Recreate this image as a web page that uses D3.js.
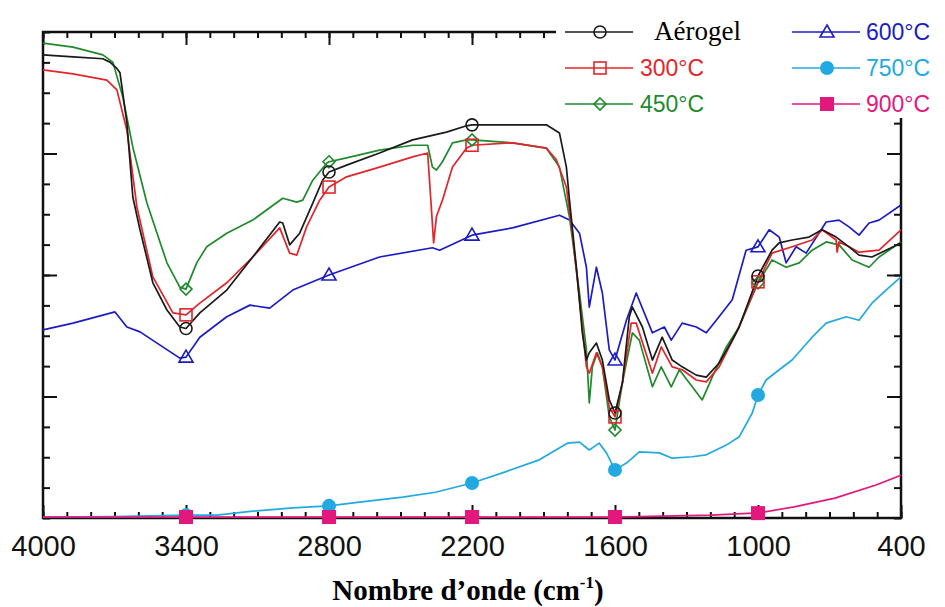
<!DOCTYPE html>
<html>
<head>
<meta charset="utf-8">
<script src="https://cdn.jsdelivr.net/npm/d3@7"></script>
<style>
  body { margin: 0; background: #fff; }
  svg { display: block; }
  .tick-label { font-family: "Liberation Sans", Arial, sans-serif; }
</style>
</head>
<body>
<svg id="chart" width="945" height="607"></svg>
<script>
// wavenumber (cm-1) / transmittance (arb. %)
const aerogel = [
  [4000, 95.3], [3874, 94.9], [3749, 94.5], [3719, 93.8], [3690, 92.5], [3677, 91.6],
  [3648, 81.3], [3623, 66.0], [3593, 59.3], [3539, 48.4], [3480, 42.8], [3426, 39.3],
  [3400, 39.0], [3342, 42.2], [3229, 46.9], [3120, 53.7], [3007, 60.9], [2994, 60.7],
  [2965, 56.2], [2923, 58.6], [2868, 64.8], [2827, 69.5], [2800, 71.2], [2726, 72.6],
  [2588, 75.1], [2449, 77.8], [2307, 79.4], [2223, 80.7], [2200, 80.9], [2030, 80.9],
  [1888, 80.9], [1833, 79.2], [1804, 72.2], [1791, 65.4], [1762, 51.6], [1737, 38.1],
  [1720, 32.5], [1708, 34.0], [1678, 36.0], [1653, 32.5], [1624, 24.3], [1600, 21.6],
  [1569, 27.8], [1540, 41.4], [1527, 43.4], [1485, 39.3], [1443, 32.5], [1402, 37.2],
  [1360, 32.5], [1318, 31.1], [1259, 29.4], [1217, 29.0], [1163, 31.9], [1108, 36.6],
  [1079, 39.3], [1000, 49.8], [941, 55.1], [911, 56.6], [857, 57.2], [786, 57.8],
  [731, 59.3], [672, 57.8], [618, 55.8], [576, 54.1], [522, 53.7], [463, 55.1], [400, 56.6]
];
const t300 = [
  [4000, 92.2], [3874, 91.4], [3732, 90.1], [3690, 88.1], [3648, 79.8], [3606, 64.0],
  [3539, 49.6], [3455, 42.2], [3400, 41.8], [3342, 44.2], [3229, 48.4], [3120, 53.7],
  [3007, 59.7], [2965, 54.5], [2935, 54.1], [2894, 59.9], [2839, 65.4], [2800, 68.1],
  [2726, 70.2], [2588, 72.2], [2449, 74.3], [2386, 75.1], [2370, 63.4], [2361, 56.6],
  [2349, 62.1], [2324, 65.4], [2282, 72.2], [2223, 76.1], [2200, 76.7], [2030, 77.2],
  [1888, 76.1], [1846, 73.7], [1804, 68.1], [1779, 58.6], [1749, 44.9], [1720, 31.1],
  [1708, 29.8], [1678, 34.0], [1653, 31.1], [1624, 22.8], [1600, 20.8], [1569, 27.8],
  [1532, 40.1], [1511, 40.1], [1443, 29.8], [1406, 35.2], [1360, 31.1], [1318, 30.5],
  [1259, 28.4], [1217, 28.0], [1163, 31.1], [1091, 38.1], [1000, 48.6], [941, 54.5],
  [857, 55.8], [773, 57.2], [731, 59.3], [672, 57.2], [668, 54.7], [660, 56.8],
  [618, 55.8], [576, 54.7], [492, 55.1], [400, 59.3]
];
const t450 = [
  [4000, 97.7], [3874, 96.9], [3749, 95.3], [3707, 93.8], [3665, 86.6], [3623, 76.3],
  [3564, 64.8], [3480, 52.5], [3426, 47.5], [3400, 47.1], [3355, 52.5], [3313, 55.8],
  [3229, 58.6], [3120, 61.3], [2994, 65.8], [2935, 65.0], [2910, 65.4], [2868, 69.5],
  [2810, 73.0], [2800, 73.3], [2726, 74.1], [2588, 75.7], [2449, 76.7], [2386, 76.7],
  [2366, 72.2], [2349, 71.6], [2324, 73.3], [2282, 77.2], [2223, 77.8], [2200, 77.8],
  [2030, 77.2], [1888, 76.1], [1833, 72.2], [1791, 61.9], [1749, 46.3], [1720, 34.6],
  [1708, 23.7], [1695, 31.1], [1674, 34.0], [1653, 31.1], [1624, 20.8], [1600, 18.1],
  [1569, 27.8], [1527, 38.1], [1498, 36.6], [1443, 27.0], [1406, 31.1], [1364, 27.0],
  [1330, 30.5], [1276, 27.0], [1234, 24.3], [1192, 29.0], [1133, 35.2], [1079, 39.3],
  [1000, 48.4], [941, 53.1], [882, 51.6], [827, 52.5], [773, 55.1], [714, 56.8],
  [660, 56.2], [605, 53.1], [534, 51.6], [492, 53.7], [400, 56.8]
];
const t600 = [
  [4000, 38.7], [3874, 40.1], [3698, 42.4], [3648, 39.3], [3593, 38.3], [3426, 32.9],
  [3400, 33.1], [3342, 37.2], [3229, 41.4], [3132, 43.8], [3049, 43.2], [2952, 46.9],
  [2800, 50.0], [2588, 53.7], [2366, 55.6], [2336, 55.1], [2200, 58.2], [2030, 59.7],
  [1833, 62.3], [1791, 61.3], [1749, 58.6], [1720, 51.6], [1708, 43.4], [1678, 51.6],
  [1653, 46.3], [1624, 34.6], [1600, 32.5], [1552, 40.7], [1511, 46.3], [1443, 38.1],
  [1393, 39.3], [1364, 36.6], [1318, 40.1], [1259, 39.3], [1217, 38.1], [1175, 40.7],
  [1108, 44.9], [1050, 55.1], [1000, 55.8], [953, 59.3], [911, 57.8], [882, 52.5],
  [840, 55.8], [798, 54.5], [714, 60.9], [660, 61.3], [618, 59.9], [576, 58.2],
  [534, 60.7], [492, 61.3], [400, 64.4]
];
const t750 = [
  [4000, 0.2], [3700, 0.3], [3400, 0.6], [3271, 0.6], [3120, 1.4], [2952, 2.1],
  [2800, 2.5], [2663, 3.3], [2491, 4.3], [2353, 5.3], [2200, 7.2], [2060, 9.5],
  [1921, 11.9], [1800, 15.4], [1749, 15.6], [1708, 14.0], [1666, 15.4], [1636, 13.4],
  [1600, 9.9], [1552, 11.3], [1498, 13.6], [1414, 13.4], [1360, 12.3], [1276, 12.6],
  [1217, 13.0], [1133, 15.0], [1079, 16.7], [1024, 21.6], [1000, 25.3], [966, 28.4],
  [911, 30.5], [857, 32.5], [773, 37.2], [714, 40.1], [630, 41.4], [576, 40.7],
  [522, 44.2], [463, 46.9], [400, 49.6]
];
const t900 = [
  [4000, 0.2], [3400, 0.2], [2800, 0.2], [2200, 0.2], [1600, 0.2], [1196, 0.6],
  [1020, 1.0], [1000, 1.0], [848, 2.3], [677, 4.1], [505, 6.8], [400, 8.8]
];

const seriesNames = ['Aérogel', '300°C', '450°C', '600°C', '750°C', '900°C'];
const seriesData = [aerogel, t300, t450, t600, t750, t900];
const seriesColors = ['#1a1a1a', '#e2252b', '#1f8a2c', '#1c1cc4', '#22a9e1', '#e2187c'];
const seriesSymbols = ['circle', 'square', 'diamond', 'triangle', 'dot', 'block'];
const markerWaves = [3400, 2800, 2200, 1600, 1000];
const majorTicks = [4000, 3400, 2800, 2200, 1600, 1000, 400];

const svg = d3.select('#chart');
const margin = {left: 43, right: 44, top: 32, bottom: 89};
const W = 945, H = 607;

const x = d3.scaleLinear().domain([4000, 400]).range([margin.left, W - margin.right]);
const y = d3.scaleLinear().domain([0, 100]).range([H - margin.bottom, margin.top]);

const minorX = d3.range(4000, 399, -100);
const minorY = d3.range(0, 100.01, 6.25);

// axes (ticks point inward)
function styleAxis(g) {
  g.select('.domain').remove();
  g.selectAll('line').attr('stroke', '#111').attr('stroke-width', 2);
}
svg.append('g').attr('transform', `translate(0,${y(0)})`)
  .call(d3.axisBottom(x).tickValues(minorX).tickSize(-6).tickFormat(''))
  .call(styleAxis);
svg.append('g').attr('transform', `translate(0,${y(0)})`)
  .call(d3.axisBottom(x).tickValues(majorTicks).tickSize(-13).tickPadding(17).tickFormat(d3.format('d')))
  .call(styleAxis)
  .call(g => g.selectAll('text').attr('class', 'tick-label').attr('font-size', 29).attr('fill', '#111'));
svg.append('g').attr('transform', `translate(0,${y(100)})`)
  .call(d3.axisTop(x).tickValues(minorX).tickSize(-6).tickFormat(''))
  .call(styleAxis);
svg.append('g').attr('transform', `translate(0,${y(100)})`)
  .call(d3.axisTop(x).tickValues(majorTicks).tickSize(-13).tickFormat(''))
  .call(styleAxis);
svg.append('g').attr('transform', `translate(${x(4000)},0)`)
  .call(d3.axisLeft(y).tickValues(minorY).tickSize(-7).tickFormat(''))
  .call(styleAxis);
svg.append('g').attr('transform', `translate(${x(4000)},0)`)
  .call(d3.axisLeft(y).tickValues([25, 50, 75]).tickSize(-14).tickFormat(''))
  .call(styleAxis);
svg.append('g').attr('transform', `translate(${x(400)},0)`)
  .call(d3.axisRight(y).tickValues(minorY).tickSize(-7).tickFormat(''))
  .call(styleAxis);
svg.append('g').attr('transform', `translate(${x(400)},0)`)
  .call(d3.axisRight(y).tickValues([25, 50, 75]).tickSize(-14).tickFormat(''))
  .call(styleAxis);

svg.append('rect')
  .attr('x', x(4000)).attr('y', y(100))
  .attr('width', x(400) - x(4000)).attr('height', y(0) - y(100))
  .attr('fill', 'none').attr('stroke', '#111').attr('stroke-width', 2.5);

// spectra
const line = d3.line().x(d => x(d[0])).y(d => y(d[1]));
const drawOrder = [4, 3, 2, 1, 0, 5];

drawOrder.forEach(i => {
  svg.append('path')
    .datum(seriesData[i])
    .attr('d', line)
    .attr('fill', 'none')
    .attr('stroke', seriesColors[i])
    .attr('stroke-width', 1.7)
    .attr('stroke-linejoin', 'round');
});

function drawSymbol(g, kind, cx, cy, color) {
  if (kind === 'circle') {
    g.append('circle').attr('cx', cx).attr('cy', cy).attr('r', 6)
      .attr('fill', 'none').attr('stroke', color).attr('stroke-width', 1.6);
  } else if (kind === 'square') {
    g.append('rect').attr('x', cx - 6).attr('y', cy - 6).attr('width', 12).attr('height', 12)
      .attr('fill', 'none').attr('stroke', color).attr('stroke-width', 1.6);
  } else if (kind === 'diamond') {
    g.append('path').attr('d', `M${cx},${cy - 6}L${cx + 6},${cy}L${cx},${cy + 6}L${cx - 6},${cy}Z`)
      .attr('fill', 'none').attr('stroke', color).attr('stroke-width', 1.6);
  } else if (kind === 'triangle') {
    g.append('path').attr('d', `M${cx},${cy - 7}L${cx + 7},${cy + 5}L${cx - 7},${cy + 5}Z`)
      .attr('fill', 'none').attr('stroke', color).attr('stroke-width', 1.6);
  } else if (kind === 'dot') {
    g.append('circle').attr('cx', cx).attr('cy', cy).attr('r', 7).attr('fill', color);
  } else {
    g.append('rect').attr('x', cx - 7).attr('y', cy - 7).attr('width', 14).attr('height', 14)
      .attr('fill', color);
  }
}

const markerLayer = svg.append('g');
drawOrder.forEach(i => {
  seriesData[i].filter(d => markerWaves.includes(d[0])).forEach(d => {
    drawSymbol(markerLayer, seriesSymbols[i], x(d[0]), y(d[1]), seriesColors[i]);
  });
});

// legend
const legend = svg.append('g');
legend.append('rect').attr('x', 556).attr('y', 0).attr('width', 389).attr('height', 118).attr('fill', '#fff');
const legendCols = [{lx: 565, tx: 640}, {lx: 792, tx: 866}];
const legendRows = [32, 68, 104];
seriesNames.forEach((name, i) => {
  const col = legendCols[Math.floor(i / 3)];
  const ly = legendRows[i % 3];
  legend.append('line')
    .attr('x1', col.lx).attr('x2', col.lx + 68).attr('y1', ly).attr('y2', ly)
    .attr('stroke', seriesColors[i]).attr('stroke-width', 1.7);
  drawSymbol(legend, seriesSymbols[i], col.lx + 35, ly, seriesColors[i]);
  const serif = i === 0;
  legend.append('text')
    .attr('x', serif ? 654 : col.tx).attr('y', ly + 8)
    .attr('font-family', serif ? '"Liberation Serif", "Times New Roman", serif' : '"Liberation Sans", Arial, sans-serif')
    .attr('font-size', serif ? 27 : 23)
    .attr('fill', serif ? '#000' : seriesColors[i])
    .text(name);
});

// x axis title
const title = svg.append('text')
  .attr('x', 468).attr('y', 600)
  .attr('text-anchor', 'middle')
  .attr('font-family', '"Liberation Serif", "Times New Roman", serif')
  .attr('font-weight', 'bold')
  .attr('font-size', 29)
  .attr('fill', '#000');
title.append('tspan').text('Nombre d’onde (cm');
title.append('tspan').attr('font-size', 17).attr('dy', -12).text('-1');
title.append('tspan').attr('dy', 12).text(')');
</script>
</body>
</html>
